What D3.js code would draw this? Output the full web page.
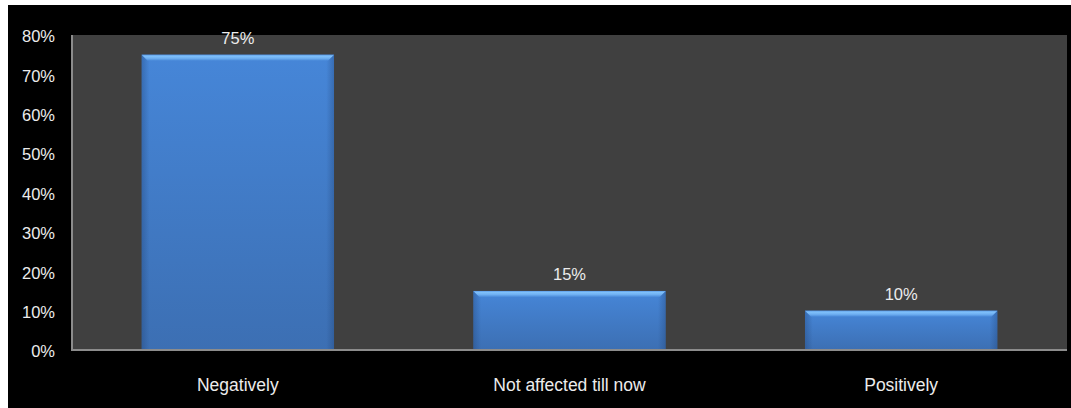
<!DOCTYPE html>
<html><head><meta charset="utf-8">
<script src="https://cdn.jsdelivr.net/npm/d3@7"></script>
<style>html,body{margin:0;padding:0;background:#fff;}svg{display:block;}</style>
</head><body>
<script>
const categories = ["Negatively", "Not affected till now", "Positively"];
const values = [0.75, 0.15, 0.10];
const labels = ["75%", "15%", "10%"];
const yTicks = [0, 0.1, 0.2, 0.3, 0.4, 0.5, 0.6, 0.7, 0.8];

const W = 1071, H = 408;
const svg = d3.select("body").append("svg").attr("width", W).attr("height", H);
svg.append("rect").attr("x", 8).attr("y", 5).attr("width", W - 8).attr("height", H - 5).attr("fill", "#000");

const plot = {l: 72, t: 35, r: 1067, b: 350};
svg.append("rect").attr("x", plot.l).attr("y", plot.t).attr("width", plot.r - plot.l).attr("height", plot.b - plot.t).attr("fill", "#404040");

const x = d3.scaleBand().domain(categories).range([plot.l, plot.r]).paddingInner(0.42).paddingOuter(0.21);
const y = d3.scaleLinear().domain([0, 0.8]).range([plot.b, plot.t]);

const defs = svg.append("defs");
const gv = defs.append("linearGradient").attr("id", "gv").attr("x1", 0).attr("x2", 0).attr("y1", 0).attr("y2", 1);
gv.append("stop").attr("offset", "0%").attr("stop-color", "#4686d8");
gv.append("stop").attr("offset", "100%").attr("stop-color", "#3c6fb3");
const gh = defs.append("linearGradient").attr("id", "gh").attr("x1", 0).attr("x2", 1).attr("y1", 0).attr("y2", 0);
gh.append("stop").attr("offset", "0%").attr("stop-color", "#1e3f70").attr("stop-opacity", 0.35);
gh.append("stop").attr("offset", "4%").attr("stop-color", "#1e3f70").attr("stop-opacity", 0);
gh.append("stop").attr("offset", "96%").attr("stop-color", "#1e3f70").attr("stop-opacity", 0);
gh.append("stop").attr("offset", "100%").attr("stop-color", "#1e3f70").attr("stop-opacity", 0.35);
const gt = defs.append("linearGradient").attr("id", "gt").attr("x1", 0).attr("x2", 0).attr("y1", 0).attr("y2", 1);
gt.append("stop").attr("offset", "0%").attr("stop-color", "#5a9be8");
gt.append("stop").attr("offset", "25%").attr("stop-color", "#7fc0fa");
gt.append("stop").attr("offset", "60%").attr("stop-color", "#6fb0f2");
gt.append("stop").attr("offset", "100%").attr("stop-color", "#4a8ad9");

const bars = svg.append("g").selectAll("g").data(categories).join("g");
bars.append("rect")
  .attr("x", d => x(d)).attr("y", (d, i) => y(values[i]))
  .attr("width", x.bandwidth()).attr("height", (d, i) => y(0) - y(values[i]))
  .attr("fill", "url(#gv)");
bars.append("rect")
  .attr("x", d => x(d)).attr("y", (d, i) => y(values[i]))
  .attr("width", x.bandwidth()).attr("height", (d, i) => y(0) - y(values[i]))
  .attr("fill", "url(#gh)");
bars.append("path")
  .attr("d", (d, i) => {
    const x0 = x(d), x1 = x(d) + x.bandwidth(), t = y(values[i]);
    return `M${x0},${t}L${x1},${t}L${x1 - 6},${t + 6}L${x0 + 6},${t + 6}Z`;
  })
  .attr("fill", "url(#gt)");

// axes lines
svg.append("line").attr("x1", plot.l).attr("x2", plot.l).attr("y1", plot.t).attr("y2", plot.b).attr("stroke", "#8c8c8c").attr("stroke-width", 2);
svg.append("line").attr("x1", plot.l - 1).attr("x2", plot.r).attr("y1", plot.b).attr("y2", plot.b).attr("stroke", "#8c8c8c").attr("stroke-width", 2);

const font = "'Liberation Sans', Arial, sans-serif";
const fmt = d3.format(".0%");
svg.append("g").selectAll("text").data(yTicks).join("text")
  .attr("x", 55).attr("y", d => y(d) + 3)
  .attr("text-anchor", "end").attr("dominant-baseline", "middle")
  .attr("fill", "#ececec").attr("font-family", font).attr("font-size", "16.5px")
  .text(d => fmt(d));

svg.append("g").selectAll("text").data(categories).join("text")
  .attr("x", d => x(d) + x.bandwidth() / 2).attr("y", 391)
  .attr("text-anchor", "middle")
  .attr("fill", "#ececec").attr("font-family", font).attr("font-size", "17.5px")
  .text(d => d);

svg.append("g").selectAll("text").data(categories).join("text")
  .attr("x", d => x(d) + x.bandwidth() / 2).attr("y", (d, i) => y(values[i]) - 11)
  .attr("text-anchor", "middle")
  .attr("fill", "#ececec").attr("font-family", font).attr("font-size", "16.5px")
  .text((d, i) => labels[i]);
</script>
</body></html>
